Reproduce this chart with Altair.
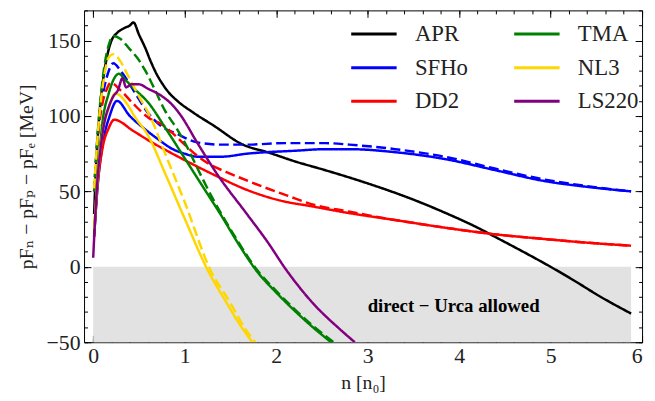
import altair as alt
import pandas as pd

# ---------------- data ----------------
apr_n = [0.01, 0.03, 0.06, 0.10, 0.15, 0.20, 0.26, 0.33, 0.40, 0.44, 0.50, 0.57, 0.63, 0.70, 0.76, 0.82, 0.92, 1.10, 1.32, 1.62, 1.93, 2.20, 2.54, 2.94, 3.48, 3.84, 4.20, 4.42, 4.70, 5.00, 5.24, 5.55, 5.88]
apr_v = [35, 65, 95, 120, 139, 150, 155, 158, 160, 162, 154, 145, 136, 127, 121, 116, 110, 102, 93.5, 81.5, 75.5, 70, 64, 56.5, 45, 36, 26, 19, 10, 0, -8.5, -20, -31]

sfho_n = [0.01, 0.05, 0.10, 0.18, 0.26, 0.40, 0.55, 0.70, 0.87, 1.00, 1.14, 1.40, 1.68, 2.22, 2.54, 2.80, 3.30, 3.84, 4.40, 4.92, 5.40, 5.88]
sfho_v = [20, 55, 80, 100, 110, 100, 92, 85, 78, 75, 73, 73, 75, 77, 78, 78, 76, 71.5, 64, 57, 53, 50]
sfho_d_n = [0.01, 0.05, 0.10, 0.16, 0.22, 0.30, 0.44, 0.60, 0.75, 0.92, 1.14, 1.40, 1.68, 2.10, 2.54, 2.80, 3.30, 3.84, 4.40, 4.92, 5.40, 5.88]
sfho_d_v = [50, 88, 112, 128, 135, 130, 117, 102, 93, 88, 82.5, 81, 81, 82, 82, 81, 78, 73, 65, 58, 53.5, 50]

dd2_n = [0.01, 0.05, 0.10, 0.17, 0.23, 0.44, 0.60, 0.96, 1.32, 1.68, 2.04, 2.40, 2.76, 3.30, 3.84, 4.40, 4.92, 5.40, 5.88]
dd2_v = [20, 55, 78, 92, 97.5, 90, 84, 72, 61, 51, 44, 40, 36, 31, 26, 21.5, 18.5, 16, 14]
dd2_d_n = [0.01, 0.05, 0.10, 0.15, 0.19, 0.30, 0.44, 0.60, 0.76, 0.87, 1.00, 1.15, 1.30, 1.45, 1.73, 2.13, 2.42, 2.76, 3.30, 3.84, 4.40, 4.92, 5.40, 5.88]
dd2_d_v = [50, 85, 108, 118, 122, 117, 108, 99, 94, 88.5, 81, 73, 67, 63, 56, 47, 41, 37, 31, 26, 21.5, 18.5, 16, 14]

tma_n = [0.01, 0.05, 0.10, 0.17, 0.24, 0.28, 0.35, 0.45, 0.60, 0.80, 1.00, 1.20, 1.40, 1.60, 1.79, 2.00, 2.20, 2.40, 2.60]
tma_v = [22, 60, 95, 115, 126, 128, 124, 118, 109, 91, 72, 53, 34, 14, -3, -17, -29, -40, -50]
tma_d_n = [0.01, 0.06, 0.12, 0.18, 0.22, 0.30, 0.39, 0.50, 0.57, 0.67, 0.78, 0.92, 1.03, 1.15, 1.30, 1.45, 1.57, 1.79, 2.00, 2.20, 2.42, 2.63]
tma_d_v = [50, 97, 132, 149, 153, 151, 145, 137, 130, 118, 104, 91, 79, 64, 46, 30, 18, -2, -16, -28, -40, -50]

nl3_n = [0.01, 0.05, 0.10, 0.17, 0.24, 0.37, 0.45, 0.60, 0.80, 1.00, 1.25, 1.45, 1.60, 1.74]
nl3_v = [25, 60, 88, 105, 115, 108, 100, 87, 60, 32, -2, -23, -38, -50]
nl3_d_n = [0.01, 0.06, 0.12, 0.17, 0.22, 0.30, 0.37, 0.50, 0.62, 0.80, 1.00, 1.28, 1.50, 1.66, 1.77]
nl3_d_v = [52, 95, 126, 139, 141, 136, 128, 113, 100, 73, 43, -2, -24, -41, -50]

ls220_n = [0.00, 0.04, 0.08, 0.12, 0.17, 0.22, 0.27, 0.32, 0.36, 0.42, 0.50, 0.60, 0.73, 0.87, 0.95, 1.14, 1.36, 1.68, 1.90, 2.11, 2.40, 2.69, 2.86]
ls220_v = [6, 52, 78, 95, 106, 113, 117, 125, 119, 121, 121, 118, 114, 107, 101, 82, 61, 35, 17, -2, -24, -41, -50]

legend_order = ["APR", "SFHo", "DD2", "TMA", "NL3", "LS220"]
legend_colors = ["#000000", "#0000ff", "#ff0000", "#008000", "#ffd700", "#800080"]

x_major = [0, 1, 2, 3, 4, 5, 6]
x_minor = [round(i * 0.2, 1) for i in range(0, 31)]
y_major = [-50, 0, 50, 100, 150]
y_minor = list(range(-50, 171, 10))

region_x, region_x2, region_y, region_y2 = [0.0], [5.88], [-50], [0]
note_x, note_y, note_text = [3.94], [-26], ["direct \u2212 Urca allowed"]

# ---------------- build tables ----------------
series = [
    ("APR", "solid", apr_n, apr_v),
    ("SFHo", "solid", sfho_n, sfho_v),
    ("SFHo", "dashed", sfho_d_n, sfho_d_v),
    ("DD2", "solid", dd2_n, dd2_v),
    ("DD2", "dashed", dd2_d_n, dd2_d_v),
    ("TMA", "solid", tma_n, tma_v),
    ("TMA", "dashed", tma_d_n, tma_d_v),
    ("NL3", "solid", nl3_n, nl3_v),
    ("NL3", "dashed", nl3_d_n, nl3_d_v),
    ("LS220", "solid", ls220_n, ls220_v),
]
rows = []
for k, (m, var, ns, vs) in enumerate(series):
    for n, v in zip(ns, vs):
        rows.append({"n": n, "v": v, "model": m, "variant": var, "key": f"{k:02d}_{m}_{var}"})
lines_df = pd.DataFrame(rows)
region_df = pd.DataFrame({"x": region_x, "x2": region_x2, "y": region_y, "y2": region_y2})
note_df = pd.DataFrame({"x": note_x, "y": note_y, "t": note_text})

FONT = "'Liberation Serif', 'DejaVu Serif', 'Times New Roman', serif"
XS = alt.Scale(domain=[-0.1, 6], nice=False, zero=False)
YS = alt.Scale(domain=[-50, 170], nice=False, zero=False)


def axis(orient, values, size, labels=False, title=None, **kw):
    return alt.Axis(orient=orient, values=values, tickSize=size, offset=-size,
                    domain=False, grid=False, labels=labels, ticks=True,
                    tickColor="black", tickWidth=1, title=title, **kw)


rect = alt.Chart(region_df).mark_rect(color="#e2e2e2").encode(
    x=alt.X("x:Q", scale=XS, axis=axis("bottom", x_major, 7, labels=True, title="n [n\u2080]",
                                       labelPadding=4, titlePadding=6, format="d")),
    x2="x2:Q",
    y=alt.Y("y:Q", scale=YS, axis=axis("left", y_major, 7, labels=True,
                                       title="pF\u2099 \u2212 pF\u209a \u2212 pF\u2091  [MeV]",
                                       labelPadding=4, titlePadding=10, format="d")),
    y2="y2:Q",
)

lines = alt.Chart(lines_df).mark_line(strokeWidth=2.5, interpolate="monotone", clip=True).encode(
    x=alt.X("n:Q", scale=XS, axis=axis("bottom", x_minor, 3.5)),
    y=alt.Y("v:Q", scale=YS, axis=axis("left", y_minor, 3.5)),
    color=alt.Color("model:N", scale=alt.Scale(domain=legend_order, range=legend_colors),
                    legend=alt.Legend(orient="none", legendX=269, legendY=11, columns=2,
                                      symbolType="M-1,0H3", symbolSize=529, symbolStrokeWidth=3,
                                      labelFont=FONT, labelFontSize=23, labelColor="#222",
                                      labelOffset=40, columnPadding=40, rowPadding=9,
                                      padding=0, title=None)),
    strokeDash=alt.StrokeDash("variant:N", scale=alt.Scale(domain=["solid", "dashed"],
                                                           range=[[1, 0], [10, 4.5]]), legend=None),
    detail="key:N",
    order=alt.Order("key:N"),
)

note = alt.Chart(note_df).mark_text(font=FONT, fontSize=19, fontWeight="bold", color="black").encode(
    x=alt.X("x:Q", scale=XS, axis=axis("top", x_major, 7)),
    y=alt.Y("y:Q", scale=YS, axis=axis("right", y_major, 7)),
    text="t:N",
)

ghost = alt.Chart(region_df).mark_point(opacity=0).encode(
    x=alt.X("x:Q", scale=XS, axis=axis("top", x_minor, 3.5)),
    y=alt.Y("y:Q", scale=YS, axis=axis("right", y_minor, 3.5)),
)

chart = alt.layer(rect, lines, note, ghost).resolve_axis(
    x="independent", y="independent"
).properties(
    width=565, height=336,
    autosize=alt.AutoSizeParams(type="none"),
    padding={"left": 77, "top": 0, "right": 5, "bottom": 50},
    background="white",
).configure_view(stroke="black", strokeWidth=1).configure_axis(
    labelFont=FONT, labelFontSize=22, labelColor="#222",
    titleFont=FONT, titleFontSize=20, titleFontWeight="normal", titleColor="#222",
)

chart.save("out.html", embed_options={"renderer": "svg", "actions": False})
